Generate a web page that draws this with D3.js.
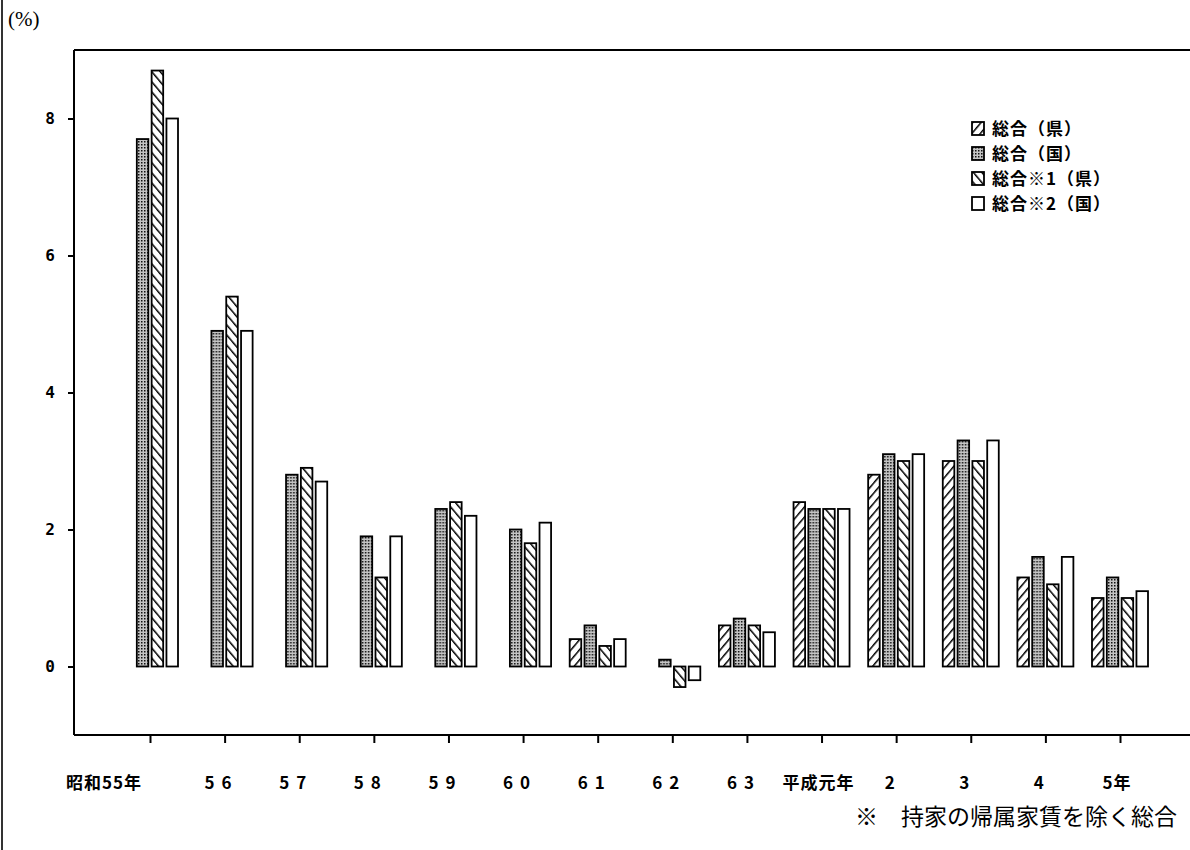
<!DOCTYPE html>
<html><head><meta charset="utf-8">
<script src="https://cdn.jsdelivr.net/npm/d3@7"></script>
<style>
html,body{margin:0;padding:0;background:#fff;}
svg{display:block;}
</style>
</head><body>
<script>
const categories = ["昭和55年","56","57","58","59","60","61","62","63","平成元年","2","3","4","5年"];
const seriesNames = ["総合（県）","総合（国）","総合※1（県）","総合※2（国）"];
const kenSogo   = [null,null,null,null,null,null,0.4,0,0.6,2.4,2.8,3.0,1.3,1.0];
const kuniSogo  = [7.7,4.9,2.8,1.9,2.3,2.0,0.6,0.1,0.7,2.3,3.1,3.3,1.6,1.3];
const kenSogo1  = [8.7,5.4,2.9,1.3,2.4,1.8,0.3,-0.3,0.6,2.3,3.0,3.0,1.2,1.0];
const kuniSogo2 = [8.0,4.9,2.7,1.9,2.2,2.1,0.4,-0.2,0.5,2.3,3.1,3.3,1.6,1.1];
const yTicks = [0,2,4,6,8];
const seriesValues = [kenSogo, kuniSogo, kenSogo1, kuniSogo2];

(function(){
const W = 1190, H = 850;
const svg = d3.select("body").append("svg").attr("width", W).attr("height", H);
const defs = svg.append("defs");

// patterns
const p0 = defs.append("pattern").attr("id","hatchR").attr("patternUnits","userSpaceOnUse")
  .attr("width",6.5).attr("height",6.5).attr("patternTransform","rotate(40)");
p0.append("rect").attr("width",6.5).attr("height",6.5).attr("fill","#fff");
p0.append("line").attr("x1",0).attr("y1",0).attr("x2",0).attr("y2",6.5).attr("stroke","#000").attr("stroke-width",3);
const p2 = defs.append("pattern").attr("id","hatchL").attr("patternUnits","userSpaceOnUse")
  .attr("width",6.5).attr("height",6.5).attr("patternTransform","rotate(-40)");
p2.append("rect").attr("width",6.5).attr("height",6.5).attr("fill","#fff");
p2.append("line").attr("x1",0).attr("y1",0).attr("x2",0).attr("y2",6.5).attr("stroke","#000").attr("stroke-width",3);
const p1 = defs.append("pattern").attr("id","dots").attr("patternUnits","userSpaceOnUse")
  .attr("width",3).attr("height",3);
p1.append("rect").attr("width",3).attr("height",3).attr("fill","#c4c4c4");
p1.append("rect").attr("x",0).attr("y",0).attr("width",1.5).attr("height",1.5).attr("fill","#111");
const fills = ["url(#hatchR)","url(#dots)","url(#hatchL)","#fff"];

const mL = 74, mR = 1190, mT = 50, mB = 735;
const x = d3.scalePoint().domain(categories).range([150, 1120]);
const x1 = d3.scaleBand().domain(d3.range(4)).range([-28, 28]).paddingInner(0.22);
const y = d3.scaleLinear().domain([-1, 9]).range([mB, mT]);

// page left border
svg.append("line").attr("x1",2).attr("x2",2).attr("y1",0).attr("y2",H).attr("stroke","#333").attr("stroke-width",2);

// frame
svg.append("line").attr("x1",mL).attr("x2",mR).attr("y1",mT).attr("y2",mT).attr("stroke","#000").attr("stroke-width",2);
svg.append("line").attr("x1",mL).attr("x2",mL).attr("y1",mT).attr("y2",mB).attr("stroke","#000").attr("stroke-width",2);
svg.append("line").attr("x1",mL).attr("x2",mR).attr("y1",mB).attr("y2",mB).attr("stroke","#000").attr("stroke-width",2);

// y axis
const yAxis = svg.append("g").attr("transform",`translate(${mL},0)`)
  .call(d3.axisLeft(y).tickValues(yTicks).tickSize(6).tickFormat(d3.format("d")));
yAxis.select(".domain").remove();
yAxis.selectAll(".tick line").attr("stroke","#000").attr("stroke-width",2);
yAxis.selectAll(".tick text").attr("x",-24).attr("text-anchor","middle")
  .style("font-family","DejaVu Sans Mono").style("font-size","16px").style("font-weight","bold").attr("fill","#000");

// x axis ticks
const xAxis = svg.append("g").attr("transform",`translate(0,${mB})`)
  .call(d3.axisBottom(x).tickSize(8).tickFormat(""));
xAxis.select(".domain").remove();
xAxis.selectAll(".tick line").attr("stroke","#000").attr("stroke-width",2);

// x labels
svg.append("g").selectAll("text").data(categories).join("text")
  .attr("x", (d,i) => i === 0 ? x(d) - 8 : x(d) - 3)
  .attr("y", 789)
  .attr("text-anchor", (d,i) => i === 0 ? "end" : "middle")
  .style("font-family","Noto Sans CJK JP").style("font-size","17px").style("font-weight","bold")
  .style("letter-spacing", d => /^[0-9]+$/.test(d) ? "7px" : "1px")
  .attr("fill","#000").text(d => d);

// bars
const groups = svg.append("g").selectAll("g").data(categories).join("g")
  .attr("transform", d => `translate(${x(d)},0)`);
groups.selectAll("rect").data((d,i) => seriesValues.map((s,k) => ({k, v: s[i]})).filter(e => e.v !== null && e.v !== 0))
  .join("rect")
  .attr("x", e => x1(e.k))
  .attr("width", x1.bandwidth())
  .attr("y", e => y(Math.max(0, e.v)))
  .attr("height", e => Math.abs(y(e.v) - y(0)))
  .attr("fill", e => fills[e.k])
  .attr("stroke","#000").attr("stroke-width",1.8);

// legend
const lg = svg.append("g").attr("transform","translate(972,122)");
const li = lg.selectAll("g").data(seriesNames).join("g").attr("transform",(d,i)=>`translate(0,${i*25})`);
li.append("rect").attr("width",12).attr("height",13).attr("fill",(d,i)=>fills[i]).attr("stroke","#000").attr("stroke-width",1.8);
li.append("text").attr("x",20).attr("y",13).text(d=>d)
  .style("font-family","Noto Sans CJK JP").style("font-size","17px").style("font-weight","bold")
  .style("letter-spacing","1px").attr("fill","#000");

// unit label
svg.append("text").attr("x",8).attr("y",26).text("(%)")
  .style("font-family","Liberation Serif").style("font-size","21px").attr("fill","#000");

// footnote
svg.append("text").attr("x",855).attr("y",825).text("※　持家の帰属家賃を除く総合")
  .style("font-family","Noto Sans CJK JP").style("font-size","23px").attr("fill","#000");
})();
</script>
</body></html>
